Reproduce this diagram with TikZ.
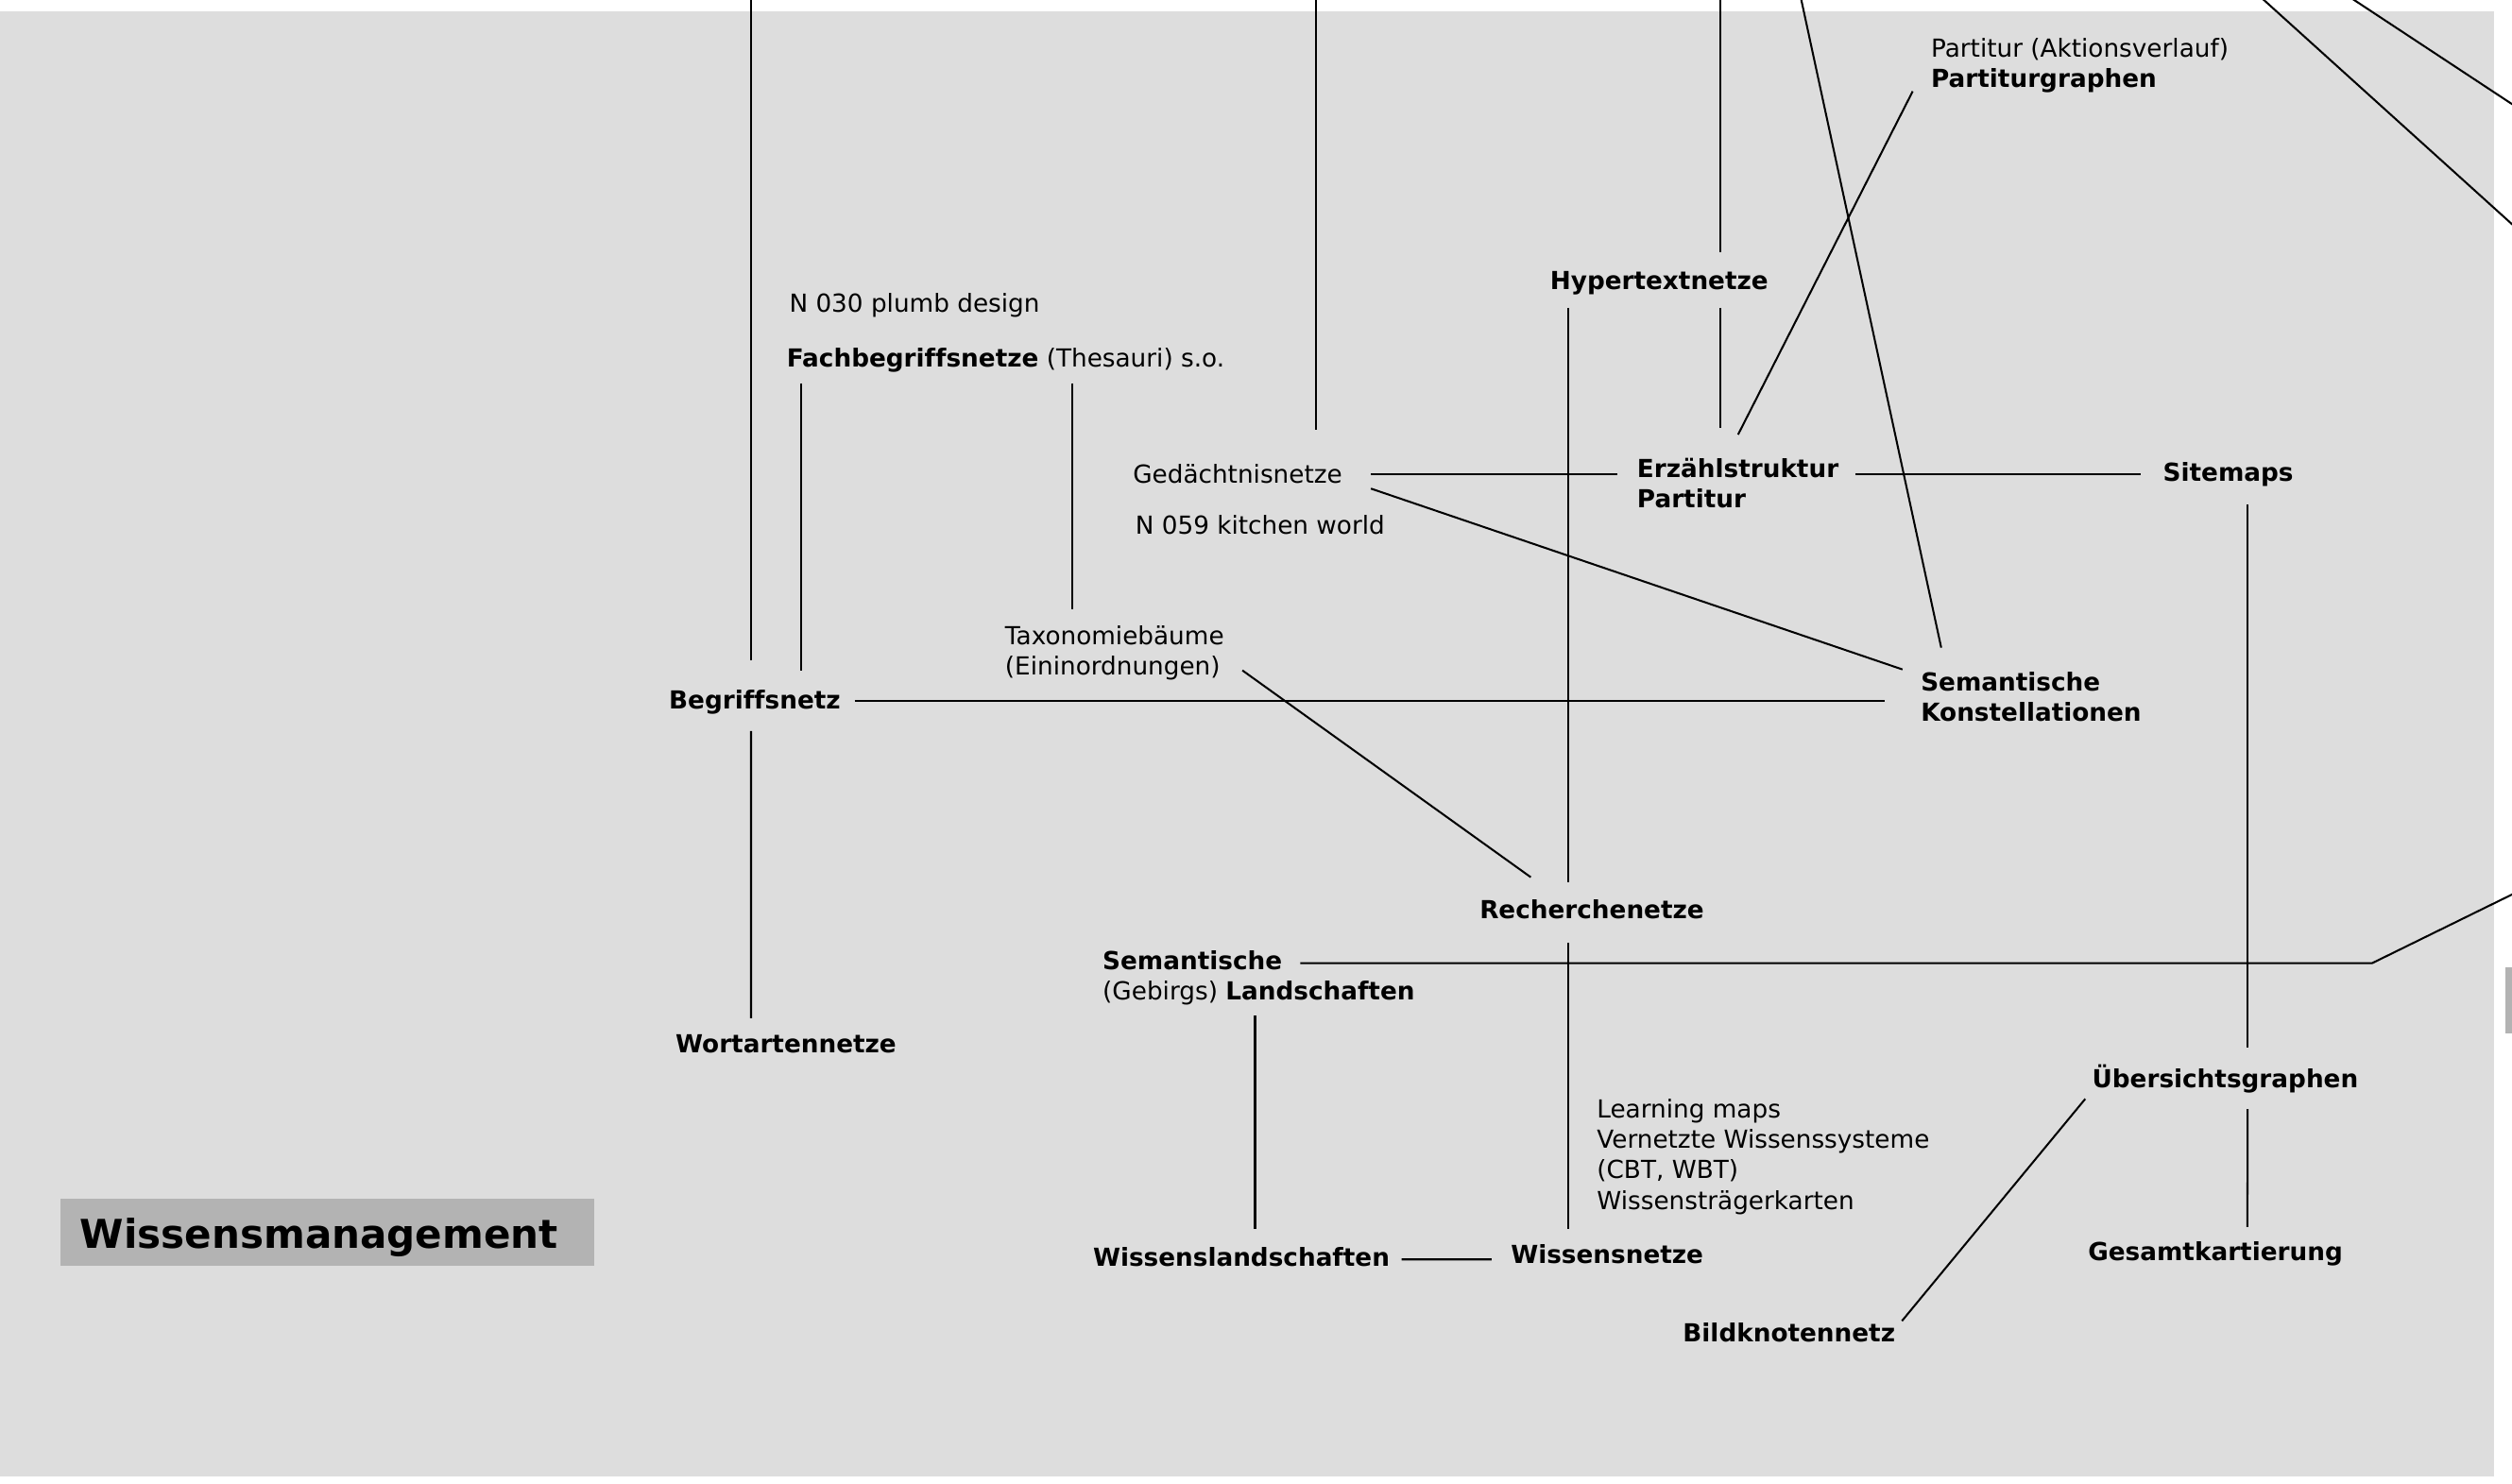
\documentclass[tikz,border=0pt]{standalone}
\usepackage{fontspec}
\setmainfont{DejaVu Sans}[Ligatures=NoCommon]
\usetikzlibrary{calc}
\definecolor{paperColor}{RGB}{221,221,221}
\definecolor{titleColor}{RGB}{179,179,179}

\begin{document}
\begin{tikzpicture}[x=1pt,y=-1pt,
  txt/.style={anchor=base west,inner sep=0pt,align=left,font=\fontsize{15.5pt}{19pt}\selectfont},
  boldtxt/.style={txt,font=\fontsize{15.5pt}{19pt}\selectfont\bfseries},
  link/.style={line width=1.2pt}]
  \clip (0,0) rectangle (1568,926.4);
  \fill[white] (0,0) rectangle (1568,926.4);
  \fill[paperColor] (0,7.1) rectangle (1556.8,921.7);
  \fill[titleColor] (1563.9,603.8) rectangle (1580,645);
  % Title
  \node[fill=titleColor,anchor=north west,inner xsep=12.3pt,inner ysep=0pt,
    minimum height=41.5pt,text width=308.4pt,align=left,text height=19.6pt,text depth=0pt,
    font=\fontsize{24.8pt}{30pt}\selectfont\bfseries] (wm) at (37.6,748.3) {Wissensmanagement};
  % Labels (multi-line ones sit on their last baseline)
  \node[txt] (n030) at (492.5,194.6) {N 030 plumb design};
  \node[txt] (fach) at (490.9,229) {\textbf{Fachbegriffsnetze} (Thesauri) s.o.};
  \node[txt] (gedae) at (707,301.6) {Gedächtnisnetze};
  \node[txt] (n059) at (708.5,333.2) {N 059 kitchen world};
  \node[boldtxt] (hyper) at (967.4,180.8) {Hypertextnetze};
  \node[boldtxt] (erz) at (1021.7,317.2) {Erzählstruktur\\Partitur};
  \node[txt] (partitur) at (1205.2,54.8) {Partitur (Aktionsverlauf)\\\textbf{Partiturgraphen}};
  \node[boldtxt] (site) at (1350,300.7) {Sitemaps};
  \node[txt] (taxo) at (627.2,421.5) {Taxonomiebäume\\(Eininordnungen)};
  \node[boldtxt] (begr) at (417.4,442.7) {Begriffsnetz};
  \node[boldtxt] (semk) at (1198.8,450.4) {Semantische\\Konstellationen};
  \node[boldtxt] (rech) at (923.4,573.5) {Recherchenetze};
  \node[txt] (seml) at (688.1,624.1) {\textbf{Semantische}\\(Gebirgs) \textbf{Landschaften}};
  \node[boldtxt] (wort) at (421.5,657.5) {Wortartennetze};
  \node[boldtxt] (uebers) at (1305.7,679.1) {Übersichtsgraphen};
  \node[txt] (learn) at (996.6,754.8) {Learning maps\\Vernetzte Wissenssysteme\\(CBT, WBT)\\Wissensträgerkarten};
  \node[boldtxt] (wland) at (682.1,790.2) {Wissenslandschaften};
  \node[boldtxt] (wnetze) at (942.9,788.6) {Wissensnetze};
  \node[boldtxt] (gesamt) at (1303.2,787.2) {Gesamtkartierung};
  \node[boldtxt] (bild) at (1050.3,837.4) {Bildknotennetz};
  % Links
  \draw[link] ($(begr.base west)+(51.4,-30.5)$) -- ++(0,-420);
  \draw[link] ($(fach.base west)+(9.1,10.2)$) -- ($(begr.base west)+(82.6,-24.2)$);
  \draw[link] ($(begr.base west)+(51.4,13.7)$) -- ($(wort.base west)+(47.3,-21.9)$);
  \draw[link] ($(begr.base west)+(116,-5.2)$) -- ($(semk.base west)+(-22.6,-12.9)$);
  \draw[link] ($(fach.base west)+(178.6,10.2)$) -- ($(taxo.base west)+(42.3,-40.9)$);
  \draw[link] ($(gedae.base west)+(114.2,-33.3)$) -- ++(0,-275);
  \draw[link] ($(gedae.base west)+(148.7,-5.6)$) -- ($(erz.base west)+(-12,-21.2)$);
  \draw[link] ($(gedae.base west)+(148.7,3.4)$) -- ($(semk.base west)+(-11.3,-32.5)$);
  \draw[link] ($(hyper.base west)+(106.3,-23.5)$) -- ++(0,-165);
  \draw[link] ($(hyper.base west)+(106.2,11.4)$) -- ($(erz.base west)+(51.9,-49.9)$);
  \draw[link] ($(hyper.base west)+(11.2,11.4)$) -- ($(rech.base west)+(55.2,-23)$);
  \draw[link] ($(erz.base west)+(63.2,-45.9)$) -- ($(partitur.base west)+(-11.3,2.2)$);
  \draw[link] ($(semk.base west)+(12.9,-46.1)$) -- ++(-88.4,-409.3);
  \draw[link] ($(erz.base west)+(136.4,-21.2)$) -- ($(site.base west)+(-13.9,-4.7)$);
  \draw[link] ($(site.base west)+(53,14.4)$) -- ($(uebers.base west)+(97.3,-24.9)$);
  \draw[link] ($(taxo.base west)+(148.3,-3)$) -- ($(rech.base west)+(32.1,-25.9)$);
  \draw[link] ($(rech.base west)+(55.2,15.2)$) -- ($(wnetze.base west)+(35.7,-21.4)$);
  \draw[link] ($(seml.base west)+(123.6,-22.8)$) -- ++(668.9,0) -- ++(99.4,-48.8);
  \draw[link] ($(seml.base west)+(95.3,9.9)$) -- ($(wland.base west)+(101.3,-23)$);
  \draw[link] ($(wland.base west)+(192.8,-4)$) -- ($(wnetze.base west)+(-11.8,-2.4)$);
  \draw[link] ($(uebers.base west)+(-4.1,6.9)$) -- ($(bild.base west)+(136.9,-12.8)$);
  \draw[link] ($(uebers.base west)+(97.3,13.2)$) -- ($(gesamt.base west)+(99.6,-21.2)$);
  % Off-page links
  \coordinate (edgeA1) at (1464.9,-3);
  \coordinate (edgeA2) at (1580,72.9);
  \coordinate (edgeB1) at (1409.8,-3);
  \coordinate (edgeB2) at (1580,150.8);
  \draw[link] (edgeA1) -- (edgeA2);
  \draw[link] (edgeB1) -- (edgeB2);
\end{tikzpicture}
\end{document}
